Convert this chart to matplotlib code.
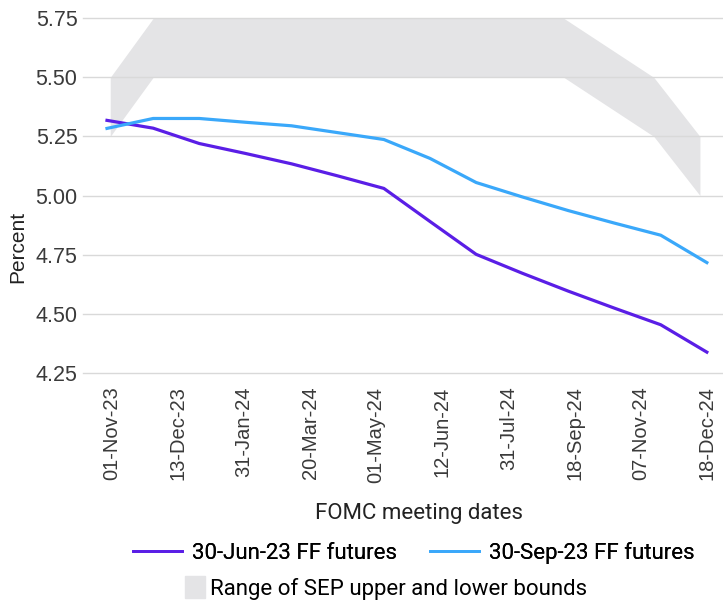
import matplotlib.pyplot as plt
import numpy as np
from matplotlib.patches import Patch
from matplotlib.lines import Line2D

# monthly points, Nov-23 .. Dec-24
months = np.arange(14)
ff_jun23 = [5.318, 5.285, 5.220, 5.178, 5.134, 5.083, 5.030, 4.890, 4.751, 4.671, 4.595, 4.523, 4.453, 4.337]
ff_sep23 = [5.284, 5.326, 5.326, 5.310, 5.295, 5.266, 5.237, 5.157, 5.055, 4.994, 4.936, 4.883, 4.832, 4.716]

# SEP range (upper / lower bounds)
sep_x = [0.07, 1.0, 9.9, 11.85, 12.85]
sep_upper = [5.50, 5.75, 5.75, 5.50, 5.25]
sep_lower = [5.25, 5.50, 5.50, 5.25, 5.00]

fomc_labels = ["01-Nov-23", "13-Dec-23", "31-Jan-24", "20-Mar-24", "01-May-24",
               "12-Jun-24", "31-Jul-24", "18-Sep-24", "07-Nov-24", "18-Dec-24"]
y_ticks = [4.25, 4.50, 4.75, 5.00, 5.25, 5.50, 5.75]

purple = "#5a1ee6"
blue = "#3aa8fa"
band = "#e4e4e6"

W, H = 723, 601
fig = plt.figure(figsize=(W / 100, H / 100), dpi=100)
ax = fig.add_axes([83 / W, 1 - 372.7 / H, (W - 83) / W, (372.7 - 18.3) / H])

ax.fill_between(sep_x, sep_lower, sep_upper, color=band, lw=0, zorder=1)
ax.plot(months, ff_jun23, color=purple, lw=2.3, zorder=3)
ax.plot(months, ff_sep23, color=blue, lw=2.3, zorder=3)

ax.set_ylim(4.25, 5.75)
ax.set_xlim(-0.52, 13.35)
ax.set_yticks(y_ticks)
ax.set_yticklabels([f"{v:.2f}" for v in y_ticks])
ax.set_xticks(np.linspace(0.1, 13.0, len(fomc_labels)))
ax.set_xticklabels(fomc_labels, rotation=90)
ax.tick_params(axis="y", length=0, pad=4, labelsize=15.5, labelcolor="#3a3a3a")
ax.tick_params(axis="x", length=0, pad=10, labelsize=14.5, labelcolor="#3a3a3a")
for lbl in ax.get_xticklabels() + ax.get_yticklabels():
    lbl.set_family("Liberation Sans")
ax.grid(axis="y", color="#d9d9d9", lw=1.0, zorder=2)
for gl in ax.get_ygridlines():
    gl.set_clip_on(False)
ax.set_axisbelow(False)
for s in ax.spines.values():
    s.set_visible(False)

fig.text(18 / W, 1 - 247 / H, "Percent", rotation=90, ha="center", va="center",
         fontsize=15, family="Liberation Sans", color="#222222")
fig.text(419 / W, 1 - 514 / H, "FOMC meeting dates", ha="center", va="center",
         fontsize=16, family="Roboto", color="#222222")

h1 = [Line2D([], [], color=purple, lw=2), Line2D([], [], color=blue, lw=2)]
leg1 = fig.legend(h1, ["30-Jun-23 FF futures", "30-Sep-23 FF futures"], ncol=2,
                  loc="center", bbox_to_anchor=(414 / W, 1 - 553 / H), frameon=False,
                  prop={"family": "Roboto", "size": 16}, handlelength=2.2,
                  columnspacing=1.5, handletextpad=0.45)
fig.add_artist(leg1)
fig.legend([Patch(color=band)], ["Range of SEP upper and lower bounds"],
           loc="center", bbox_to_anchor=(386 / W, 1 - 588 / H), frameon=False,
           prop={"family": "Roboto", "size": 16}, handlelength=0.9, handleheight=1.1,
           handletextpad=0.25)

fig.savefig("out.png", dpi=100)
